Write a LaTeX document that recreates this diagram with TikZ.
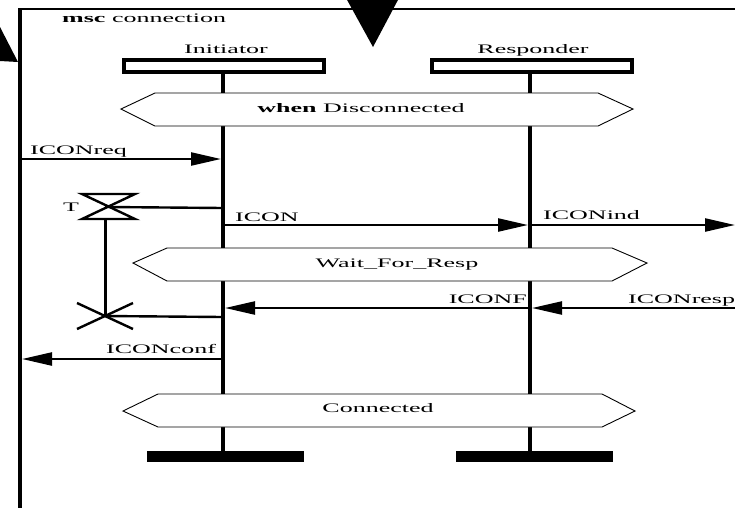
\documentclass[tikz,border=0pt]{standalone}
\usepackage{graphicx}
\usepackage{fontspec}
\setmainfont{Liberation Serif}
\usetikzlibrary{arrows.meta}
% wide, flat lettering used throughout the chart
\newcommand{\widetext}[1]{\scalebox{2}[1]{#1}}
\tikzset{
  lbl/.style={font=\fontsize{13}{15}\selectfont, inner sep=0pt},
  lifeline/.style={line width=4.5pt},
  msg/.style={line width=2.3pt, -{Triangle[length=30pt,width=13pt]}},
  timerline/.style={line width=2.4pt},
  cond/.style={draw, line width=0.9pt, fill=white},
  headbox/.style={draw, line width=4pt, minimum width=200pt, minimum height=12pt, inner sep=0pt},
  endbar/.style={fill=black, minimum width=157pt, minimum height=11pt, inner sep=0pt},
}
\begin{document}
\begin{tikzpicture}[x=1pt,y=-1pt]
\useasboundingbox (0,0) rectangle (735,507);

% pointer marks
\fill (0,27) -- (18,62) -- (0,61) -- cycle;
\fill (346,-2) -- (399,-2) -- (373,47) -- cycle;

% diagram frame
\draw[line width=4.5pt] (20,8) -- (20,510);
\draw[line width=2.5pt] (18,9) -- (740,9);
\node[lbl, anchor=base west] (title) at (62,22) {\widetext{\textbf{msc} connection}};

% instance heads and ends
\node[headbox] (init) at (224,66) {};
\node[headbox] (resp) at (532,66) {};
\node[lbl, anchor=base] (initname) at (226,53) {\widetext{Initiator}};
\node[lbl, anchor=base] (respname) at (533,53) {\widetext{Responder}};
\node[endbar] (initend) at (225.5,456.5) {};
\node[endbar] (respend) at (534,456.5) {};

% lifelines
\draw[lifeline] (223,74) -- (223,451);
\draw[lifeline] (530,74) -- (530,451);

% conditions
\draw[cond] (121,109) -- (155,93) -- (598,93) -- (633,109) -- (598,126) -- (155,126) -- cycle;
\node[lbl, anchor=base] (c1) at (361,112) {\widetext{\textbf{when} Disconnected}};
\draw[cond] (133,263) -- (167,248) -- (612,248) -- (647,263) -- (612,281) -- (167,281) -- cycle;
\node[lbl, anchor=base] (c2) at (397,267) {\widetext{Wait\_For\_Resp}};
\draw[cond] (123,411) -- (158,394) -- (602,394) -- (635,411) -- (602,427) -- (158,427) -- cycle;
\node[lbl, anchor=base] (c3) at (378,412) {\widetext{Connected}};

% message end points
\coordinate (envreq) at (22,159);   \coordinate (ireq) at (221,159);
\coordinate (icon) at (225,225);    \coordinate (rcon) at (528,225);
\coordinate (rind) at (532,225);    \coordinate (envind) at (735,225);
\coordinate (envresp) at (735,308); \coordinate (rresp) at (532,308);
\coordinate (rconf) at (528,308);   \coordinate (iconf) at (225,308);
\coordinate (iout) at (221,359);    \coordinate (envconf) at (22,359);

% messages
\draw[msg] (envreq) -- (ireq);
\node[lbl, anchor=base west] (lreq) at (30,154) {\widetext{ICONreq}};
\draw[msg] (icon) -- (rcon);
\node[lbl, anchor=base west] (lcon) at (235,221) {\widetext{ICON}};
\draw[msg] (rind) -- (envind);
\node[lbl, anchor=base west] (lind) at (543,219) {\widetext{ICONind}};
\draw[msg] (envresp) -- (rresp);
\node[lbl, anchor=base west] (lresp) at (628,303) {\widetext{ICONresp}};
\draw[msg] (rconf) -- (iconf);
\node[lbl, anchor=base east] (lconf) at (527,303) {\widetext{ICONF}};
\draw[msg] (iout) -- (envconf);
\node[lbl, anchor=base west] (lcnf) at (106,353) {\widetext{ICONconf}};

% timer T: set, running, timeout
\coordinate (tset) at (108,207);
\coordinate (tinit) at (223,208);
\coordinate (tbot) at (105,219);
\coordinate (tout) at (105,316);
\coordinate (toutl) at (223,317);
\draw[timerline] (82,194) -- (135,194) -- (82,219) -- (135,219) -- cycle;
\draw[timerline] (tset) -- (tinit);
\draw[line width=3pt] (tbot) -- (tout);
\draw[timerline] (77,303) -- (133,329);
\draw[timerline] (77,329) -- (133,303);
\draw[timerline] (tout) -- (toutl);
\node[lbl, anchor=base] (tname) at (71,211) {\widetext{T}};
\end{tikzpicture}
\end{document}
